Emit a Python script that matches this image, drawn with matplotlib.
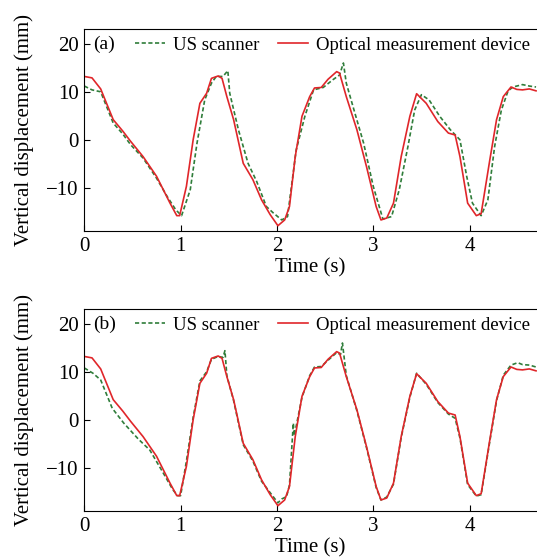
import matplotlib.pyplot as plt
import numpy as np

plt.rcParams['font.family'] = ['Liberation Serif', 'DejaVu Serif']
plt.rcParams['font.size'] = 15

# optical measurement device (same in both panels)
t_opt = [0.0, 0.08, 0.17, 0.30, 0.40, 0.48, 0.61, 0.75, 0.89, 0.96, 0.99,
         1.06, 1.13, 1.20, 1.27, 1.32, 1.39, 1.43, 1.48, 1.55, 1.65, 1.75,
         1.84, 1.93, 2.01, 2.08, 2.13, 2.19, 2.26, 2.34, 2.39, 2.46, 2.53,
         2.62, 2.65, 2.72, 2.83, 2.93, 3.03, 3.08, 3.14, 3.21, 3.29, 3.38,
         3.45, 3.55, 3.67, 3.78, 3.85, 3.90, 3.98, 4.07, 4.12, 4.21, 4.28,
         4.35, 4.43, 4.49, 4.55, 4.62, 4.69]
v_opt = [13.2, 12.9, 10.6, 4.2, 1.8, -0.3, -3.5, -7.6, -13.2, -15.8, -15.8,
         -9.7, 0.0, 7.6, 9.7, 12.8, 13.3, 12.8, 9.0, 4.2, -4.9, -8.3,
         -12.5, -15.6, -17.9, -16.7, -13.9, -3.5, 4.9, 9.0, 10.8, 10.9, 12.6,
         14.2, 13.9, 9.0, 2.1, -5.6, -13.9, -16.7, -16.3, -13.2, -3.5, 4.9,
         9.6, 7.6, 3.8, 1.4, 1.0, -3.5, -13.2, -15.8, -15.4, -4.2, 4.2,
         9.0, 11.0, 10.5, 10.4, 10.6, 10.2]

# US scanner, raw (panel a)
t_us_a = [0.0, 0.08, 0.17, 0.30, 0.40, 0.48, 0.61, 0.75, 0.86, 0.95, 1.01,
          1.10, 1.17, 1.25, 1.32, 1.37, 1.44, 1.49, 1.51, 1.60, 1.70, 1.79,
          1.89, 1.96, 2.05, 2.11, 2.20, 2.29, 2.38, 2.48, 2.58, 2.65, 2.69,
          2.72, 2.79, 2.90, 3.00, 3.10, 3.19, 3.27, 3.36, 3.43, 3.50, 3.58,
          3.69, 3.80, 3.90, 3.97, 4.03, 4.12, 4.19, 4.26, 4.33, 4.40, 4.45,
          4.55, 4.62, 4.69]
v_us_a = [11.2, 10.4, 10.0, 3.5, 1.2, -1.0, -3.8, -8.0, -11.8, -14.6, -15.8,
          -10.4, -0.7, 8.3, 11.8, 13.2, 13.2, 14.4, 9.7, 2.1, -4.9, -8.7,
          -13.9, -15.2, -16.7, -16.0, -2.1, 4.9, 10.4, 10.9, 12.5, 13.5, 16.0,
          11.8, 6.9, -0.7, -9.7, -16.5, -16.0, -10.4, -1.4, 6.2, 9.4, 8.3,
          4.9, 2.1, 0.0, -7.6, -13.2, -15.8, -12.5, -1.4, 6.2, 10.2, 11.0,
          11.5, 11.2, 11.0]

# US scanner, aligned (panel b)
t_us_b = [0.0, 0.09, 0.17, 0.29, 0.41, 0.56, 0.68, 0.82, 0.92, 0.97, 1.00,
          1.06, 1.13, 1.20, 1.27, 1.32, 1.39, 1.44, 1.46, 1.48, 1.55, 1.65,
          1.75, 1.84, 1.93, 2.01, 2.05, 2.10, 2.13, 2.17, 2.18, 2.26, 2.34,
          2.39, 2.46, 2.53, 2.62, 2.66, 2.68, 2.72, 2.83, 2.93, 3.03, 3.08,
          3.14, 3.21, 3.29, 3.38, 3.45, 3.55, 3.67, 3.78, 3.85, 3.90, 3.98,
          4.07, 4.12, 4.21, 4.28, 4.35, 4.43, 4.50, 4.55, 4.62, 4.69]
v_us_b = [10.8, 9.7, 8.3, 2.4, -0.7, -4.0, -6.3, -11.1, -14.6, -15.8, -15.8,
          -8.6, 0.5, 8.1, 10.0, 12.6, 13.2, 13.0, 14.4, 9.2, 4.0, -5.2,
          -8.6, -12.8, -15.2, -17.3, -16.5, -16.0, -13.6, -0.7, -3.3, 4.7, 9.2,
          11.0, 11.1, 12.4, 14.0, 13.6, 16.0, 9.2, 1.9, -5.8, -14.1, -16.7,
          -16.1, -13.4, -3.7, 4.7, 9.7, 7.4, 3.6, 1.2, 0.3, -3.8, -13.5,
          -15.9, -15.6, -4.5, 4.0, 9.3, 11.4, 11.9, 11.5, 11.4, 11.0]

panels = [('(a)', t_us_a, v_us_a), ('(b)', t_us_b, v_us_b)]
green = '#2f7d3a'
red = '#e0262a'

fig = plt.figure(figsize=(5.37, 5.60), dpi=100)
boxes = [[0.157, 0.5875, 0.843, 0.36], [0.157, 0.0875, 0.843, 0.36]]

for box, (tag, t_us, v_us) in zip(boxes, panels):
    ax = fig.add_axes(box)
    ax.plot(t_us, v_us, '--', color=green, lw=1.2, dashes=(2.5, 1.5),
            label='US scanner')
    ax.plot(t_opt, v_opt, '-', color=red, lw=1.2, label='Optical measurement device')
    ax.set_xlim(0, 4.7)
    ax.set_ylim(-19, 23)
    ax.set_xticks([0, 1, 2, 3, 4])
    ax.set_yticks([-10, 0, 10, 20])
    ax.tick_params(direction='in', length=4, top=False, right=False, pad=4)
    ax.spines['right'].set_visible(False)
    ax.set_xlabel('Time (s)', labelpad=2)
    ax.set_ylabel('Vertical displacement (mm)', labelpad=9)
    ax.text(0.02, 0.925, tag, transform=ax.transAxes, va='center', ha='left',
            fontsize=14)
    ax.legend(loc='upper right', ncol=2, frameon=False, handlelength=1.6,
              columnspacing=1.0, handletextpad=0.4, fontsize=13.5,
              borderpad=0.3, borderaxespad=0.1, bbox_to_anchor=(1.0, 1.0))

fig.savefig('out.png', dpi=100)
